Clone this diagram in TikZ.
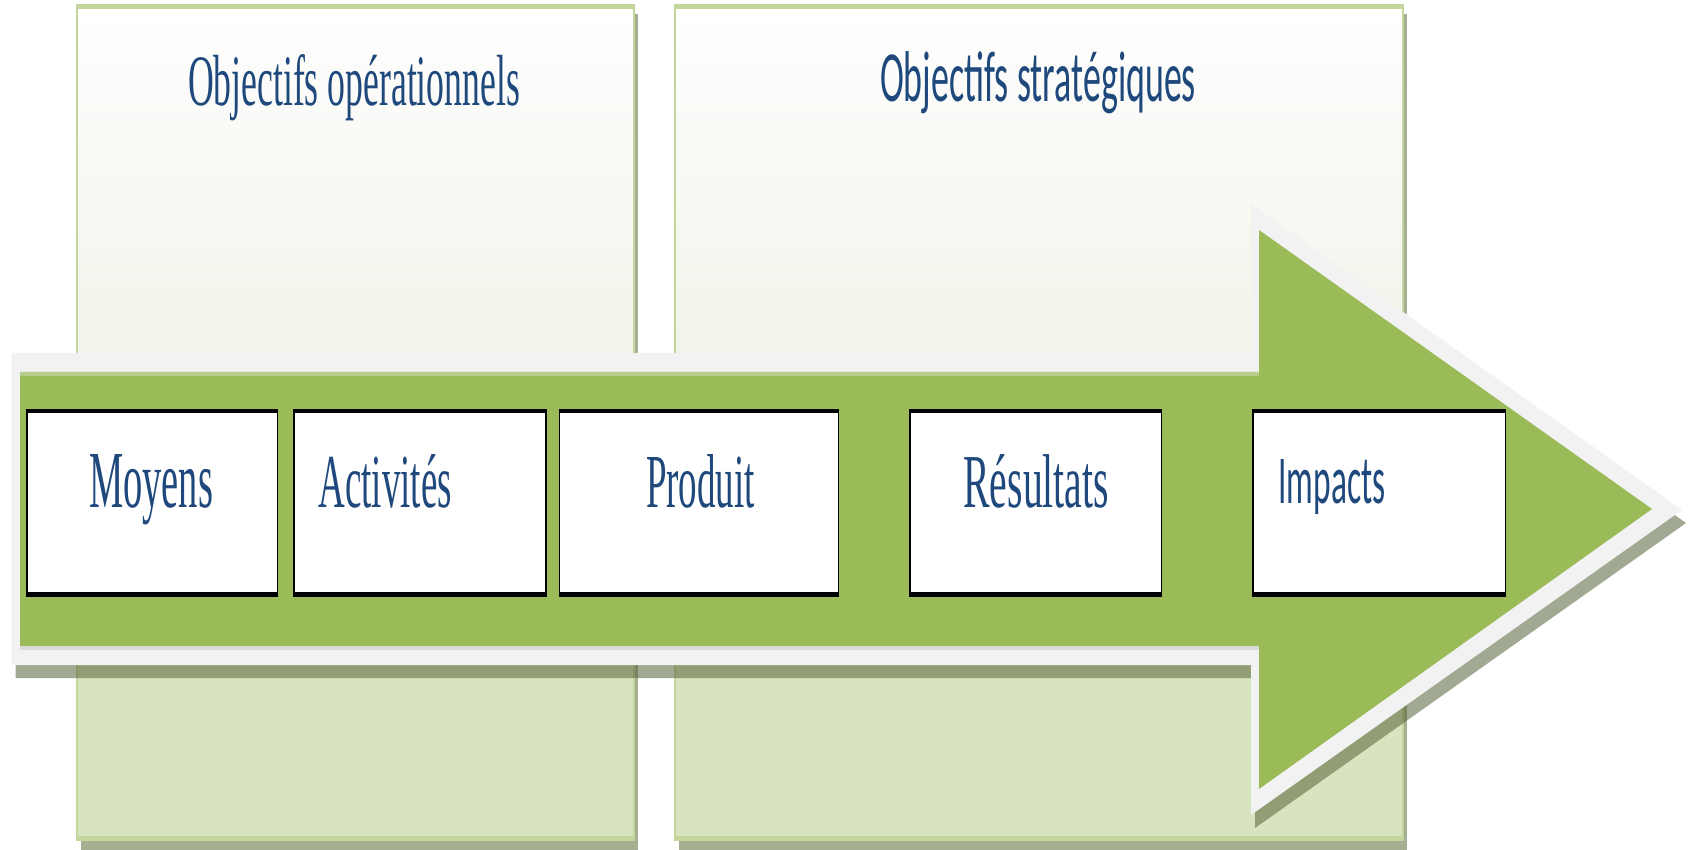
\documentclass[tikz,border=0pt]{standalone}
\usepackage{fontspec}
\usepackage{graphicx}
\newfontfamily\serifA{Liberation Serif}
\newfontfamily\sansA{Carlito}
\definecolor{txtblue}{HTML}{1F497D}
\definecolor{agreen}{HTML}{9BBB59}
\definecolor{agreenhi}{HTML}{B7CD8C}
\definecolor{agray}{HTML}{F2F2F2}
\definecolor{pborder}{HTML}{C3D69B}
\definecolor{ptop}{HTML}{EEF2E6}
\definecolor{plow}{HTML}{D8E4BF}
\definecolor{pshadow}{HTML}{A5AF92}
\definecolor{ashadow}{HTML}{56633A}
\newcommand\mytxt[3]{\resizebox{#1pt}{#2pt}{#3}}
\tikzset{
  wbox/.style={draw=black, fill=white, line width=1.5pt, inner sep=0pt, minimum height=185pt},
  lbl/.style={anchor=base west, inner sep=0pt, outer sep=0pt, text=txtblue},
  pshadowst/.style={fill=pshadow},
  pfilllow/.style={fill=plow},
  pline/.style={draw=pborder, line width=2pt}
}
\begin{document}
\begin{tikzpicture}[x=1pt,y=-1pt]
\useasboundingbox (0,0) rectangle (1690,850);
\fill[white] (0,0) rectangle (1690,850);
% panels
\fill[pshadowst] (81,14) rectangle (638,850);
\fill[pshadowst] (679,14) rectangle (1407,850);
\shade[top color=white, bottom color=ptop] (77,4) rectangle (634,400);
\fill[pfilllow] (77,400) rectangle (634,841);
\shade[top color=white, bottom color=ptop] (675,4) rectangle (1403,400);
\fill[pfilllow] (675,400) rectangle (1403,841);
\draw[pline] (77,5) rectangle (634,840);
\draw[pline] (675,5) rectangle (1403,840);
\fill[pborder] (76,4) rectangle (635,9);
\fill[pborder] (76,836) rectangle (635,841);
\fill[pborder] (674,4) rectangle (1404,9);
\fill[pborder] (674,836) rectangle (1404,841);
% arrow shadow
\fill[ashadow, opacity=0.55] (15.5,366) -- (1255,366) -- (1255,217) -- (1686,523) -- (1255,828) -- (1255,678) -- (15.5,678) -- cycle;
% arrow outline
\fill[agray] (11.5,353) -- (1251,353) -- (1251,204) -- (1682,510) -- (1251,815) -- (1251,665) -- (11.5,665) -- cycle;
% arrow body
\fill[agreen] (20,372) -- (1259,372) -- (1259,230) -- (1652,509) -- (1259,789) -- (1259,646) -- (20,646) -- cycle;
\fill[agreenhi] (20,372) rectangle (1259,376);
\fill[black!10!agray] (20,646) rectangle (1259,650);
% boxes
\node[wbox, minimum width=250.5pt] (b1) at (152,502.5) {};
\node[wbox, minimum width=252pt] (b2) at (419.75,502.5) {};
\node[wbox, minimum width=279pt] (b3) at (698.75,502.5) {};
\node[wbox, minimum width=251.5pt] (b4) at (1035.5,502.5) {};
\node[wbox, minimum width=252.5pt] (b5) at (1379,502.5) {};
\foreach \b in {b1,b2,b3,b4,b5}{
  \draw[line width=4.5pt] ([yshift=-1.5pt]\b.north west) -- ([yshift=-1.5pt]\b.north east);
  \draw[line width=4.5pt] ([yshift=1.5pt]\b.south west) -- ([yshift=1.5pt]\b.south east);
}
% labels
\node[lbl] (t1) at (188,106) {\mytxt{332}{51}{\serifA\fontsize{60}{60}\selectfont Objectifs opérationnels}};
\node[lbl] (t2) at (880,102) {\mytxt{316}{50}{\sansA\fontsize{60}{60}\selectfont Objectifs stratégiques}};
\node[lbl] (l1) at (89,507) {\mytxt{124}{53}{\serifA\fontsize{60}{60}\selectfont Moyens}};
\node[lbl] (l2) at (318.5,507) {\mytxt{133.5}{53}{\serifA\fontsize{60}{60}\selectfont Activités}};
\node[lbl] (l3) at (646,507) {\mytxt{109}{53}{\serifA\fontsize{60}{60}\selectfont Produit}};
\node[lbl] (l4) at (963.5,507) {\mytxt{145.5}{53}{\serifA\fontsize{60}{60}\selectfont Résultats}};
\node[lbl] (l5) at (1278.5,503) {\mytxt{107}{44}{\sansA\fontsize{60}{60}\selectfont Impacts}};
\end{tikzpicture}
\end{document}
